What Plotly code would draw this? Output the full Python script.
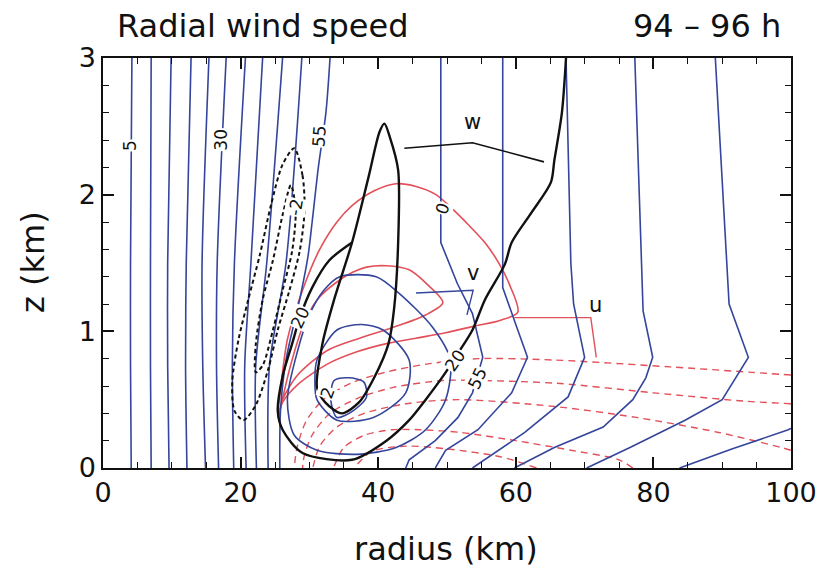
import plotly.graph_objects as go

BLUE = "#34459b"
RED = "#e2505a"
BLACK = "#111111"

# ---------------- tangential wind v (blue) ----------------
V_LEFT_LEVELS = [5, 10, 15, 20, 25, 30, 35, 40, 45, 50]
V_LEFT_Z = [3.0, 1.5, 0.75, 0.0]
V_LEFT_R = [
    [4.2, 4.0, 4.0, 4.1],
    [7.0, 6.9, 6.9, 7.0],
    [9.9, 9.4, 9.4, 9.6],
    [12.8, 12.1, 12.0, 12.2],
    [15.4, 14.4, 14.5, 14.9],
    [17.9, 16.6, 16.5, 16.8],
    [20.7, 19.1, 18.8, 19.0],
    [23.2, 21.5, 20.6, 20.8],
    [26.1, 23.8, 22.2, 22.3],
    [28.9, 26.6, 24.2, 24.0],
]
V55_LEFT_R = [33.0, 32.4, 31.3, 30.4, 29.8, 28.7, 26.6, 25.8, 25.7]
V55_LEFT_Z = [3.0, 2.6, 2.2, 1.8, 1.55, 1.26, 0.79, 0.42, 0.0]
V55_RIGHT_R = [49.1, 49.1, 51.5, 53.7, 55.2, 53.7, 51.6, 48.3, 44.5, 44.0]
V55_RIGHT_Z = [3.0, 1.65, 1.35, 1.13, 0.81, 0.55, 0.37, 0.20, 0.06, 0.0]
V50_R = [58.1, 58.1, 60.0, 61.7, 59.4, 54.5, 49.8, 48.3]
V50_Z = [3.0, 1.32, 1.05, 0.81, 0.55, 0.28, 0.13, 0.0]
V45_R = [67.3, 68.0, 68.4, 70.0, 67.6, 61.3, 53.7]
V45_Z = [3.0, 1.5, 1.2, 0.81, 0.52, 0.26, 0.0]
V40_R = [77.3, 78.2, 78.5, 79.9, 78.9, 77.0, 72.7, 65.6, 59.8]
V40_Z = [3.0, 1.5, 1.15, 0.81, 0.66, 0.50, 0.30, 0.15, 0.0]
V35_R = [89.0, 90.7, 91.0, 93.8, 90.0, 84.6, 76.6, 70.3]
V35_Z = [3.0, 1.5, 1.2, 0.81, 0.50, 0.35, 0.15, 0.0]
V30_R = [83.8, 91.5, 99.6, 100.0]
V30_Z = [0.0, 0.14, 0.28, 0.29]
V60_R = [32.1, 34.4, 39.7, 43.0, 47.9, 50.5, 49.8, 46.9, 42.6, 36.9, 31.1, 27.8, 26.8, 28.3, 30.0, 32.1]
V60_Z = [1.30, 1.40, 1.40, 1.28, 1.03, 0.79, 0.50, 0.28, 0.15, 0.10, 0.13, 0.24, 0.50, 0.86, 1.12, 1.30]
V65_R = [31.1, 34.0, 37.6, 40.7, 44.5, 44.0, 39.3, 34.0, 31.1, 30.8, 31.1]
V65_Z = [0.79, 1.01, 1.05, 1.01, 0.79, 0.55, 0.37, 0.35, 0.50, 0.64, 0.79]
V70_R = [33.6, 35.7, 37.9, 38.3, 36.4, 34.0, 33.1, 33.6]
V70_Z = [0.64, 0.66, 0.63, 0.52, 0.42, 0.37, 0.50, 0.64]

# ---------------- vertical velocity w (black) ----------------
W_OUTER_R = [67.3, 66.7, 65.6, 65.1, 62.3, 59.4, 58.4, 55.5, 53.7, 51.6, 49.4, 46.9, 44.5,
             41.2, 36.2, 29.0, 26.1, 25.4, 26.1, 27.5, 28.6, 30.4, 32.9, 36.2]
W_OUTER_Z = [3.0, 2.60, 2.25, 2.09, 1.87, 1.65, 1.49, 1.23, 1.01, 0.84, 0.67, 0.50, 0.35,
             0.20, 0.06, 0.11, 0.28, 0.42, 0.67, 0.91, 1.10, 1.32, 1.52, 1.65]
W_INNER_R = [40.9, 41.7, 42.9, 42.9, 42.3, 41.5, 39.5, 37.2, 34.7, 32.3, 31.1, 31.9, 33.7,
             36.2, 38.6, 40.2, 40.9]
W_INNER_Z = [2.52, 2.42, 2.18, 1.65, 1.16, 0.91, 0.67, 0.48, 0.40, 0.48, 0.59, 0.91, 1.25,
             1.65, 2.13, 2.46, 2.52]
W_NEG1_R = [27.8, 29.0, 29.3, 28.6, 27.1, 25.4, 24.0, 22.2, 20.4, 19.1, 18.8, 19.7, 21.1,
            22.8, 24.4, 26.1, 27.8]
W_NEG1_Z = [2.34, 2.14, 1.89, 1.59, 1.30, 1.01, 0.72, 0.46, 0.35, 0.42, 0.64, 0.94, 1.23,
            1.56, 1.92, 2.22, 2.34]
W_NEG2_R = [27.3, 28.0, 27.5, 26.1, 24.7, 23.2, 22.2, 22.2, 23.2, 24.7, 26.1, 27.3]
W_NEG2_Z = [2.07, 1.89, 1.59, 1.30, 1.01, 0.75, 0.70, 0.90, 1.23, 1.52, 1.85, 2.07]

# ---------------- radial wind u (red) ----------------
U_POS1_R = [25.4, 25.8, 26.8, 29.0, 31.4, 34.0, 36.2, 39.5, 42.6, 45.5, 48.4, 50.9, 53.1,
            55.5, 57.4, 59.1, 60.3, 57.7, 54.1, 49.8, 45.5, 41.2, 36.9, 32.6, 28.3, 26.1, 25.4]
U_POS1_Z = [0.37, 0.57, 0.94, 1.30, 1.59, 1.80, 1.92, 2.03, 2.08, 2.06, 2.00, 1.89, 1.78,
            1.65, 1.51, 1.34, 1.14, 1.08, 1.04, 0.99, 0.95, 0.91, 0.85, 0.76, 0.61, 0.48, 0.37]
U_POS2_R = [25.5, 27.1, 29.0, 31.1, 33.7, 36.2, 38.3, 41.2, 44.5, 47.2, 49.4, 46.9, 42.2,
            37.3, 32.6, 28.3, 26.1, 25.5]
U_POS2_Z = [0.37, 0.72, 1.03, 1.23, 1.35, 1.43, 1.47, 1.48, 1.45, 1.34, 1.21, 1.12, 1.03,
            0.95, 0.86, 0.68, 0.50, 0.37]
U_NEG1_R = [100.0, 94.3, 82.4, 65.6, 54.5, 47.0, 41.0, 36.0, 32.0, 29.5, 28.2, 27.8]
U_NEG1_Z = [0.68, 0.70, 0.74, 0.79, 0.80, 0.76, 0.70, 0.62, 0.50, 0.34, 0.15, 0.0]
U_NEG2_R = [100.0, 93.0, 80.0, 66.0, 55.0, 49.4, 42.2, 37.0, 33.0, 30.5, 29.3, 29.0]
U_NEG2_Z = [0.47, 0.49, 0.55, 0.62, 0.64, 0.64, 0.59, 0.51, 0.40, 0.25, 0.10, 0.0]
U_NEG3_R = [100.0, 98.6, 89.5, 77.5, 65.6, 51.6, 44.0, 38.0, 34.0, 31.5, 30.5]
U_NEG3_Z = [0.13, 0.15, 0.26, 0.37, 0.45, 0.50, 0.47, 0.40, 0.30, 0.16, 0.0]
U_NEG4_R = [77.0, 75.0, 68.0, 60.0, 52.0, 46.0, 42.0, 38.0, 35.0, 33.5]
U_NEG4_Z = [0.0, 0.06, 0.13, 0.20, 0.26, 0.28, 0.28, 0.24, 0.15, 0.0]
U_NEG5_R = [63.0, 58.0, 50.0, 44.0, 39.0, 36.5]
U_NEG5_Z = [0.0, 0.08, 0.14, 0.16, 0.12, 0.0]

# ---------------- field name leaders ----------------
W_LEAD_R = [43.8, 53.7, 64.1]
W_LEAD_Z = [2.34, 2.38, 2.24]
V_LEAD_R = [45.5, 53.8, 52.9]
V_LEAD_Z = [1.28, 1.30, 1.12]
U_LEAD_R = [59.8, 70.9, 71.7]
U_LEAD_Z = [1.10, 1.10, 0.81]

X_TICKS = [0, 20, 40, 60, 80, 100]
Y_TICKS = [0, 1, 2, 3]

fig = go.Figure()


def add(r, z, color, width=1.6, dash="solid", shape="linear"):
    fig.add_trace(go.Scatter(
        x=r, y=z, mode="lines",
        line=dict(color=color, width=width, dash=dash, shape=shape, smoothing=0.8),
        hoverinfo="skip", showlegend=False))


# u (red) first so others draw above
for r, z in [(U_NEG1_R, U_NEG1_Z), (U_NEG2_R, U_NEG2_Z), (U_NEG3_R, U_NEG3_Z),
             (U_NEG4_R, U_NEG4_Z), (U_NEG5_R, U_NEG5_Z)]:
    add(r, z, RED, 1.4, "7px,5px", "spline")
for r, z in [(U_POS1_R, U_POS1_Z), (U_POS2_R, U_POS2_Z)]:
    add(r, z, RED, 1.6, "solid", "spline")
add(U_LEAD_R, U_LEAD_Z, RED, 1.4)

# v (blue)
for rr in V_LEFT_R:
    add(rr, V_LEFT_Z, BLUE, 1.6, "solid", "spline")
add(V55_LEFT_R, V55_LEFT_Z, BLUE, 1.6, "solid", "spline")
for r, z in [(V55_RIGHT_R, V55_RIGHT_Z), (V50_R, V50_Z), (V45_R, V45_Z),
             (V40_R, V40_Z), (V35_R, V35_Z), (V30_R, V30_Z)]:
    add(r, z, BLUE, 1.6)
for r, z in [(V60_R, V60_Z), (V65_R, V65_Z), (V70_R, V70_Z)]:
    add(r, z, BLUE, 1.6, "solid", "spline")
add(V_LEAD_R, V_LEAD_Z, BLUE, 1.4)

# w (black)
add(W_NEG1_R, W_NEG1_Z, BLACK, 2.0, "4px,3px", "spline")
add(W_NEG2_R, W_NEG2_Z, BLACK, 2.0, "4px,3px", "spline")
add(W_OUTER_R, W_OUTER_Z, BLACK, 2.4, "solid", "spline")
add(W_INNER_R, W_INNER_Z, BLACK, 2.4, "solid", "spline")
add(W_LEAD_R, W_LEAD_Z, BLACK, 1.6)

# invisible trace on the mirrored axes (top / right tick marks)
fig.add_trace(go.Scatter(x=[None], y=[None], xaxis="x2", yaxis="y2", mode="lines",
                         hoverinfo="skip", showlegend=False))

FONT = "DejaVu Sans"
annotations = []


def lab(text, r, z, angle=0, size=17, bg="white"):
    annotations.append(dict(x=r, y=z, xref="x", yref="y", text=text, showarrow=False,
                            textangle=angle, font=dict(family=FONT, size=size, color=BLACK),
                            bgcolor=bg, borderpad=0))


# contour labels
lab("5", 4.0, 2.36, -90)
lab("30", 17.1, 2.40, -90)
lab("55", 31.4, 2.43, -85)
lab("-2", 28.0, 1.91, -80)
lab("20", 28.6, 1.10, -65)
lab("2", 32.6, 0.55, -70)
lab("20", 51.2, 0.79, -55)
lab("55", 54.4, 0.66, -65)
lab("0", 49.4, 1.90, -70)
# field names
lab("w", 53.7, 2.53, 0, 21, "rgba(0,0,0,0)")
lab("v", 53.8, 1.43, 0, 21, "rgba(0,0,0,0)")
lab("u", 71.6, 1.19, 0, 21, "rgba(0,0,0,0)")

W, H = 829, 570
L, R, T, B = 103, 29, 58, 102
PW, PH = W - L - R, H - T - B


def px(x):
    return (x - L) / PW


def py(y):
    return (H - B - y) / PH


annotations += [
    dict(x=px(115), y=py(26), xref="paper", yref="paper", text="Radial wind speed",
         showarrow=False, xanchor="left", yanchor="middle",
         font=dict(family=FONT, size=32, color=BLACK)),
    dict(x=px(792), y=py(26), xref="paper", yref="paper", text="94 – 96 h",
         showarrow=False, xanchor="right", yanchor="middle",
         font=dict(family=FONT, size=32, color=BLACK)),
    dict(x=px(450), y=py(549), xref="paper", yref="paper", text="radius (km)",
         showarrow=False, xanchor="center", yanchor="middle",
         font=dict(family=FONT, size=32, color=BLACK)),
    dict(x=px(32), y=py(262), xref="paper", yref="paper", text="z (km)",
         showarrow=False, xanchor="center", yanchor="middle", textangle=-90,
         font=dict(family=FONT, size=32, color=BLACK)),
]

axis_common = dict(showgrid=False, zeroline=False, showline=True, linecolor=BLACK,
                   linewidth=1.5, ticks="inside", tickcolor=BLACK,
                   tickwidth=1.5, ticklen=11,
                   tickfont=dict(family=FONT, size=27, color=BLACK))

fig.update_layout(
    width=W, height=H,
    margin=dict(l=L, r=R, t=T, b=B),
    paper_bgcolor="white", plot_bgcolor="white",
    xaxis=dict(range=[0, 100], tickmode="array", tickvals=X_TICKS,
               minor=dict(dtick=5, ticks="inside", ticklen=6, tickcolor=BLACK, tickwidth=1.3),
               **axis_common),
    yaxis=dict(range=[0, 3], tickmode="array", tickvals=Y_TICKS,
               minor=dict(dtick=0.2, ticks="inside", ticklen=6, tickcolor=BLACK, tickwidth=1.3),
               **axis_common),
    xaxis2=dict(range=[0, 100], overlaying="x", side="top", anchor="y", tickmode="array",
                tickvals=X_TICKS, showticklabels=False,
                minor=dict(dtick=5, ticks="inside", ticklen=6, tickcolor=BLACK, tickwidth=1.3),
                **axis_common),
    yaxis2=dict(range=[0, 3], overlaying="y", side="right", anchor="x", tickmode="array",
                tickvals=Y_TICKS, showticklabels=False,
                minor=dict(dtick=0.2, ticks="inside", ticklen=6, tickcolor=BLACK, tickwidth=1.3),
                **axis_common),
    annotations=annotations,
)

fig.write_html("out.html")
